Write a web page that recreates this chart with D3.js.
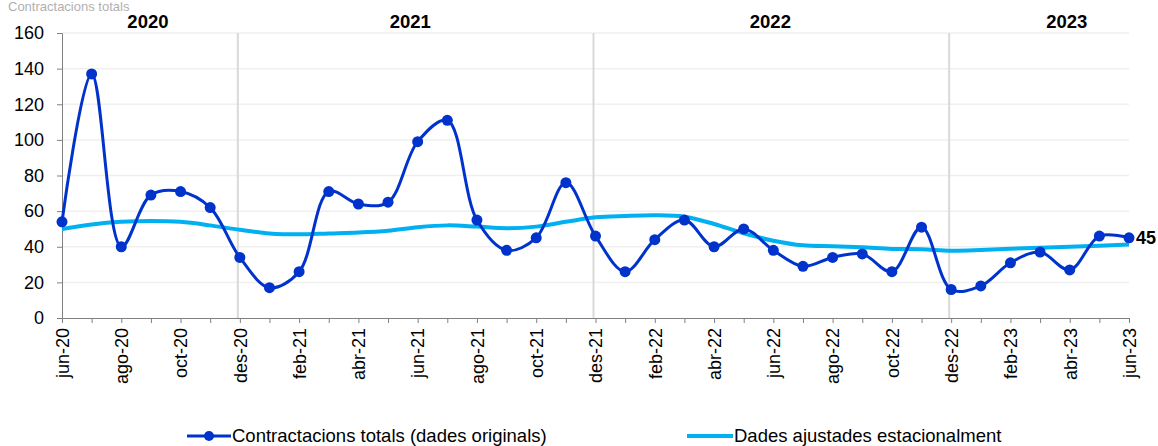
<!DOCTYPE html>
<html>
<head>
<meta charset="utf-8">
<script src="https://cdn.jsdelivr.net/npm/d3@7"></script>
<style>
  body { margin: 0; background: #fff; }
  svg { font-family: "Liberation Sans", Arial, sans-serif; }
</style>
</head>
<body>
<svg id="chart" width="1158" height="446"></svg>
<script>
// months jun-20 .. jun-23
var months = ["jun-20","jul-20","ago-20","set-20","oct-20","nov-20","des-20",
  "gen-21","feb-21","mar-21","abr-21","mai-21","jun-21","jul-21","ago-21","set-21","oct-21","nov-21","des-21",
  "gen-22","feb-22","mar-22","abr-22","mai-22","jun-22","jul-22","ago-22","set-22","oct-22","nov-22","des-22",
  "gen-23","feb-23","mar-23","abr-23","mai-23","jun-23"];

var originals = [54, 137, 40, 69, 71, 62, 34,
  17, 26, 71, 64, 65, 99, 111, 55, 38, 45, 76, 46,
  26, 44, 55, 40, 50, 38, 29, 34, 36, 26, 51, 16,
  18, 31, 37, 27, 46, 45];

var adjusted = [50, 52.5, 54, 54.5, 54, 52, 49.5,
  47.5, 47, 47.5, 48, 49, 51, 52, 51.3, 50.4, 51.3, 54, 56.5,
  57.3, 57.7, 56.9, 52.8, 47.6, 43.4, 40.8, 40.3, 39.7, 38.8, 38.6, 37.8,
  38.2, 38.9, 39.5, 40, 40.6, 41.2];

var yTicks = [0, 20, 40, 60, 80, 100, 120, 140, 160];
// year label sits at a month, plus a shift in months
var years = [
  {label: "2020", at: "set-20", shift: -0.1},
  {label: "2021", at: "jun-21", shift: -0.25},
  {label: "2022", at: "jun-22", shift: -0.1},
  {label: "2023", at: "abr-23", shift: -0.1}
];
var separators = ["des-20", "des-21", "des-22"];
var legendLabels = ["Contractacions totals (dades originals)", "Dades ajustades estacionalment"];

var dark = "#0033cc", light = "#00b0f0";

var svg = d3.select("#chart"),
    margin = {top: 33, right: 29, bottom: 128, left: 62},
    width = +svg.attr("width") - margin.left - margin.right,
    height = +svg.attr("height") - margin.top - margin.bottom;

var x = d3.scalePoint().domain(months).range([0, width]),
    y = d3.scaleLinear().domain([0, 160]).range([height, 0]);
var step = x.step();

// title (cut at the top in the original)
svg.append("text")
    .attr("x", 8).attr("y", 11)
    .attr("fill", "#b0b0b0")
    .style("font-size", "13px")
    .text("Contractacions totals");

var g = svg.append("g")
    .attr("transform", "translate(" + margin.left + "," + margin.top + ")");

// gridlines
g.selectAll(".grid")
  .data(yTicks.slice(1))
  .enter().append("line")
    .attr("x1", 0).attr("x2", width)
    .attr("y1", function(d) { return y(d); })
    .attr("y2", function(d) { return y(d); })
    .attr("stroke", "#efefef").attr("stroke-width", 1.5);

// year separators
g.selectAll(".sep")
  .data(separators)
  .enter().append("line")
    .attr("x1", function(d) { return x(d) - 2; })
    .attr("x2", function(d) { return x(d) - 2; })
    .attr("y1", 0).attr("y2", height)
    .attr("stroke", "#d9d9d9").attr("stroke-width", 2);

// year labels
svg.selectAll(".year")
  .data(years)
  .enter().append("text")
    .attr("x", function(d) { return margin.left + x(d.at) + d.shift * step; })
    .attr("y", 28)
    .attr("text-anchor", "middle")
    .style("font-size", "18.5px").style("font-weight", "bold")
    .text(function(d) { return d.label; });

// axes
var yAxis = g.append("g")
    .call(d3.axisLeft(y).tickValues(yTicks).tickSize(5).tickPadding(13));
yAxis.selectAll("text").style("font-size", "18px").attr("fill", "#000");
yAxis.selectAll("line,path").attr("stroke", "#808080");
yAxis.select(".domain").attr("d", "M-5,0.5H0.5V" + height);

var xAxis = g.append("g")
    .attr("transform", "translate(0," + height + ")")
    .call(d3.axisBottom(x).tickSize(5)
      .tickFormat(function(d, i) { return i % 2 == 0 ? d : ""; }));
xAxis.selectAll("line,path").attr("stroke", "#808080");
xAxis.select(".domain").attr("d", "M0,0.5H" + width);
xAxis.selectAll("text")
    .style("font-size", "18px").attr("fill", "#000")
    .attr("transform", "rotate(-90)")
    .attr("text-anchor", "end")
    .attr("x", -10).attr("y", 0).attr("dy", "0.35em");

// lines
var smooth = d3.line()
    .x(function(d, i) { return x(months[i]); })
    .y(function(d) { return y(d); })
    .curve(d3.curveCatmullRom.alpha(0.5));

g.append("path")
    .datum(adjusted)
    .attr("fill", "none").attr("stroke", light).attr("stroke-width", 4)
    .attr("d", smooth);

g.append("path")
    .datum(originals)
    .attr("fill", "none").attr("stroke", dark).attr("stroke-width", 3)
    .attr("d", smooth);

g.selectAll(".dot")
  .data(originals)
  .enter().append("circle")
    .attr("cx", function(d, i) { return x(months[i]); })
    .attr("cy", function(d) { return y(d); })
    .attr("r", 5.5)
    .attr("fill", dark);

// last value label
var last = originals.length - 1;
g.append("text")
    .attr("x", x(months[last]) + 7)
    .attr("y", y(originals[last]))
    .attr("dy", "0.35em")
    .style("font-size", "18px").style("font-weight", "bold")
    .text(originals[last]);

// legend
var leg = svg.append("g").attr("transform", "translate(0,436)");
leg.append("line").attr("x1", 187).attr("x2", 231).attr("y1", 0).attr("y2", 0)
    .attr("stroke", dark).attr("stroke-width", 3);
leg.append("circle").attr("cx", 209).attr("cy", 0).attr("r", 5).attr("fill", dark);
leg.append("text").attr("x", 232).attr("y", 0).attr("dy", "0.35em")
    .style("font-size", "18.5px").text(legendLabels[0]);
leg.append("line").attr("x1", 687).attr("x2", 733).attr("y1", 0).attr("y2", 0)
    .attr("stroke", light).attr("stroke-width", 4);
leg.append("text").attr("x", 734).attr("y", 0).attr("dy", "0.35em")
    .style("font-size", "18.5px").text(legendLabels[1]);
</script>
</body>
</html>
